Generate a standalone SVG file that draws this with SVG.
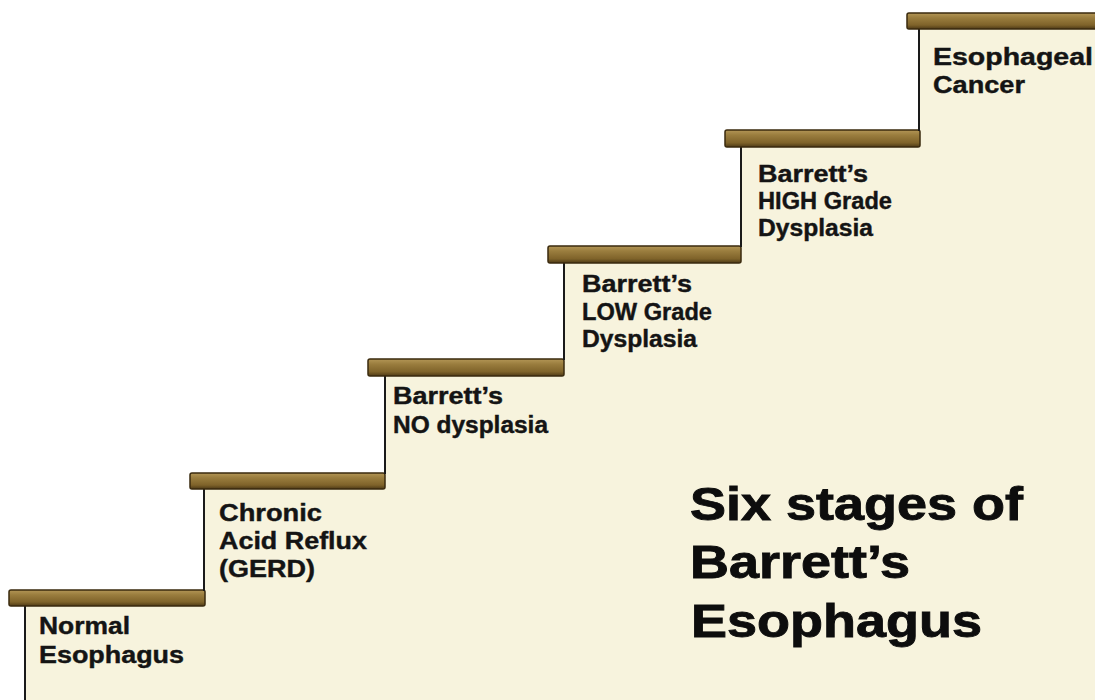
<svg xmlns="http://www.w3.org/2000/svg" width="1095" height="700" viewBox="0 0 1095 700">
  <defs>
    <linearGradient id="wood" x1="0" y1="0" x2="0" y2="1">
      <stop offset="0" stop-color="#b39656"/>
      <stop offset="0.3" stop-color="#9a7d3e"/>
      <stop offset="0.75" stop-color="#7f632a"/>
      <stop offset="1" stop-color="#4e3a16"/>
    </linearGradient>
    <style>
      .tread { fill: url(#wood); stroke: #3a2a0e; stroke-width: 1.5; }
      .riser { stroke: #1a1a1a; stroke-width: 2; fill: none; }
      .lbl { font-family: "Liberation Sans", Arial, sans-serif; font-weight: bold; font-size: 23px; fill: #141414; stroke: #141414; stroke-width: 0.4; }
      .big { font-family: "Liberation Sans", Arial, sans-serif; font-weight: bold; font-size: 47px; fill: #0d0d0d; stroke: #0d0d0d; stroke-width: 0.9; }
    </style>
  </defs>
  <rect x="0" y="0" width="1095" height="700" fill="#ffffff"/>
  <polygon id="staircase-fill" fill="#f7f3dd" points="25,700 25,605 204,605 204,489 385,489 385,376 564,376 564,263 741,263 741,147 919,147 919,29 1095,29 1095,700"/>

  <g id="stage1">
    <line class="riser" x1="25" y1="604" x2="25" y2="700"/>
    <rect class="tread" x="9" y="590" width="196" height="16" rx="2"/>
    <text class="lbl" x="39" y="634" textLength="91" lengthAdjust="spacingAndGlyphs">Normal</text>
    <text class="lbl" x="39" y="663" textLength="145" lengthAdjust="spacingAndGlyphs">Esophagus</text>
  </g>
  <g id="stage2">
    <line class="riser" x1="204" y1="488" x2="204" y2="591"/>
    <rect class="tread" x="190" y="473" width="195" height="16" rx="2"/>
    <text class="lbl" x="219" y="521" textLength="103" lengthAdjust="spacingAndGlyphs">Chronic</text>
    <text class="lbl" x="219" y="549" textLength="148" lengthAdjust="spacingAndGlyphs">Acid Reflux</text>
    <text class="lbl" x="219" y="577" textLength="96" lengthAdjust="spacingAndGlyphs">(GERD)</text>
  </g>
  <g id="stage3">
    <line class="riser" x1="385" y1="375" x2="385" y2="474"/>
    <rect class="tread" x="368" y="359" width="196" height="17" rx="2"/>
    <text class="lbl" x="393" y="404" textLength="110" lengthAdjust="spacingAndGlyphs">Barrett’s</text>
    <text class="lbl" x="393" y="433" textLength="155" lengthAdjust="spacingAndGlyphs">NO dysplasia</text>
  </g>
  <g id="stage4">
    <line class="riser" x1="564" y1="262" x2="564" y2="360"/>
    <rect class="tread" x="548" y="246" width="193" height="17" rx="2"/>
    <text class="lbl" x="582" y="292" textLength="110" lengthAdjust="spacingAndGlyphs">Barrett’s</text>
    <text class="lbl" x="582" y="320" textLength="130" lengthAdjust="spacingAndGlyphs">LOW Grade</text>
    <text class="lbl" x="582" y="347" textLength="115" lengthAdjust="spacingAndGlyphs">Dysplasia</text>
  </g>
  <g id="stage5">
    <line class="riser" x1="741" y1="146" x2="741" y2="247"/>
    <rect class="tread" x="725" y="130" width="195" height="17" rx="2"/>
    <text class="lbl" x="758" y="182" textLength="110" lengthAdjust="spacingAndGlyphs">Barrett’s</text>
    <text class="lbl" x="758" y="209" textLength="134" lengthAdjust="spacingAndGlyphs">HIGH Grade</text>
    <text class="lbl" x="758" y="236" textLength="115" lengthAdjust="spacingAndGlyphs">Dysplasia</text>
  </g>
  <g id="stage6">
    <line class="riser" x1="919" y1="28" x2="919" y2="131"/>
    <rect class="tread" x="907" y="13" width="192" height="16" rx="2"/>
    <text class="lbl" x="933" y="65" textLength="160" lengthAdjust="spacingAndGlyphs">Esophageal</text>
    <text class="lbl" x="933" y="93" textLength="92" lengthAdjust="spacingAndGlyphs">Cancer</text>
  </g>

  <g id="title">
    <text class="big" x="690" y="520" textLength="333" lengthAdjust="spacingAndGlyphs">Six stages of</text>
    <text class="big" x="690" y="578" textLength="220" lengthAdjust="spacingAndGlyphs">Barrett’s</text>
    <text class="big" x="691" y="637" textLength="291" lengthAdjust="spacingAndGlyphs">Esophagus</text>
  </g>
  <g id="connectors"/>
</svg>
